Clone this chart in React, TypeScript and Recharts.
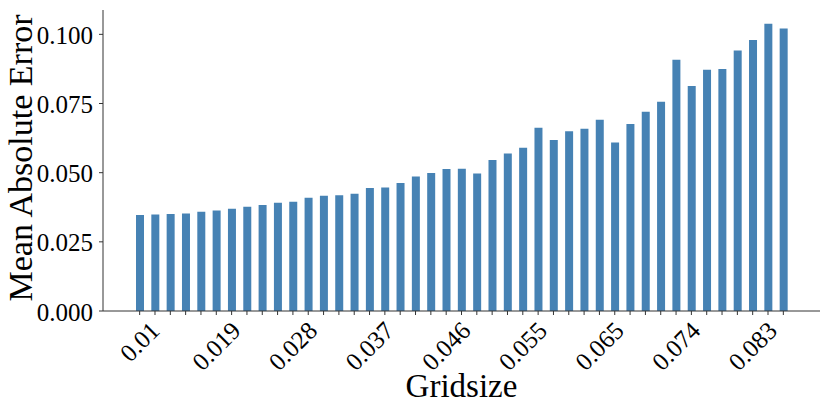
import React from "react"
import { BarChart, Bar, XAxis, YAxis } from "recharts"

// Gridsize tick labels: one entry per bar, only every 5th one is labelled
const gridLabels = [
  "0.01", "", "", "", "",
  "0.019", "", "", "", "",
  "0.028", "", "", "", "",
  "0.037", "", "", "", "",
  "0.046", "", "", "", "",
  "0.055", "", "", "", "",
  "0.065", "", "", "", "",
  "0.074", "", "", "", "",
  "0.083", "", "",
]

// mean absolute error per gridsize
const maeValues = [
  0.0347, 0.0349, 0.0351, 0.0352, 0.0359, 0.0363, 0.037, 0.0377, 0.0383, 0.0391,
  0.0395, 0.0409, 0.0417, 0.0418, 0.0424, 0.0445, 0.0446, 0.0463, 0.0486, 0.0499,
  0.0513, 0.0514, 0.0497, 0.0546, 0.0569, 0.059, 0.0662, 0.0618, 0.065, 0.0659,
  0.0691, 0.0609, 0.0676, 0.072, 0.0756, 0.0908, 0.0813, 0.0872, 0.0875, 0.0942,
  0.098, 0.1038, 0.1021,
]

const yTicks = [0, 0.025, 0.05, 0.075, 0.1]

const data = maeValues.map((v, i) => ({ idx: i, mae: v }))

const FONT = "Liberation Serif, Times New Roman, serif"
const AXIS = "#333"
const txt = { fontFamily: FONT, fill: "#000" }

function RotatedTick(props: any) {
  const { x, y, payload } = props
  const text: string = gridLabels[payload.value] ?? ""
  if (!text) return null
  const fs = 25
  // rough width of the string in Times: digits 0.5em, dot 0.25em
  const w = text.split("").reduce((s, c) => s + (c === "." ? 0.25 : 0.5), 0) * fs
  const half = (w + 0.7 * fs) / (2 * Math.SQRT2)
  const cy = y + 5 + half
  return (
    <text
      x={x}
      y={cy}
      textAnchor="middle"
      dominantBaseline="central"
      transform={`rotate(-45, ${x}, ${cy})`}
      style={{ ...txt, fontSize: fs }}
    >
      {text}
    </text>
  )
}

function YTick(props: any) {
  const { x, y, payload } = props
  return (
    <text x={x} y={y + 1} textAnchor="end" dominantBaseline="central" style={{ ...txt, fontSize: 25 }}>
      {Number(payload.value).toFixed(3)}
    </text>
  )
}

export default function App() {
  return (
    <div style={{ position: "absolute", left: 0, top: 0, width: 830, height: 415, background: "#fff" }}>
      <BarChart
        width={830}
        height={415}
        data={data}
        margin={{ top: 10, right: 10, bottom: 0, left: 0 }}
        barCategoryGap={0}
      >
        <XAxis
          dataKey="idx"
          type="category"
          height={104}
          interval={0}
          padding={{ left: 29, right: 29 }}
          tick={<RotatedTick />}
          tickSize={4}
          tickMargin={0}
          tickLine={{ stroke: AXIS }}
          axisLine={{ stroke: AXIS }}
          label={() => (
            <text x={461.5} y={397} textAnchor="middle" style={{ ...txt, fontSize: 33 }}>
              Gridsize
            </text>
          )}
        />
        <XAxis xAxisId="top" orientation="top" dataKey="idx" height={0} tick={false} tickLine={false} axisLine={{ stroke: AXIS }} />
        <YAxis
          domain={[0, 0.1088]}
          allowDataOverflow
          ticks={yTicks}
          width={103}
          tickSize={4}
          tickMargin={6}
          tickLine={{ stroke: AXIS }}
          axisLine={{ stroke: AXIS }}
          tick={<YTick />}
          label={() => (
            <text
              x={20}
              y={158}
              textAnchor="middle"
              dominantBaseline="central"
              transform="rotate(-90, 20, 158)"
              style={{ ...txt, fontSize: 34 }}
            >
              Mean Absolute Error
            </text>
          )}
        />
        <YAxis yAxisId="right" orientation="right" width={0} tick={false} tickLine={false} axisLine={{ stroke: AXIS }} />
        <Bar dataKey="mae" fill="#4682b4" barSize={8} isAnimationActive={false} />
      </BarChart>
    </div>
  )
}
